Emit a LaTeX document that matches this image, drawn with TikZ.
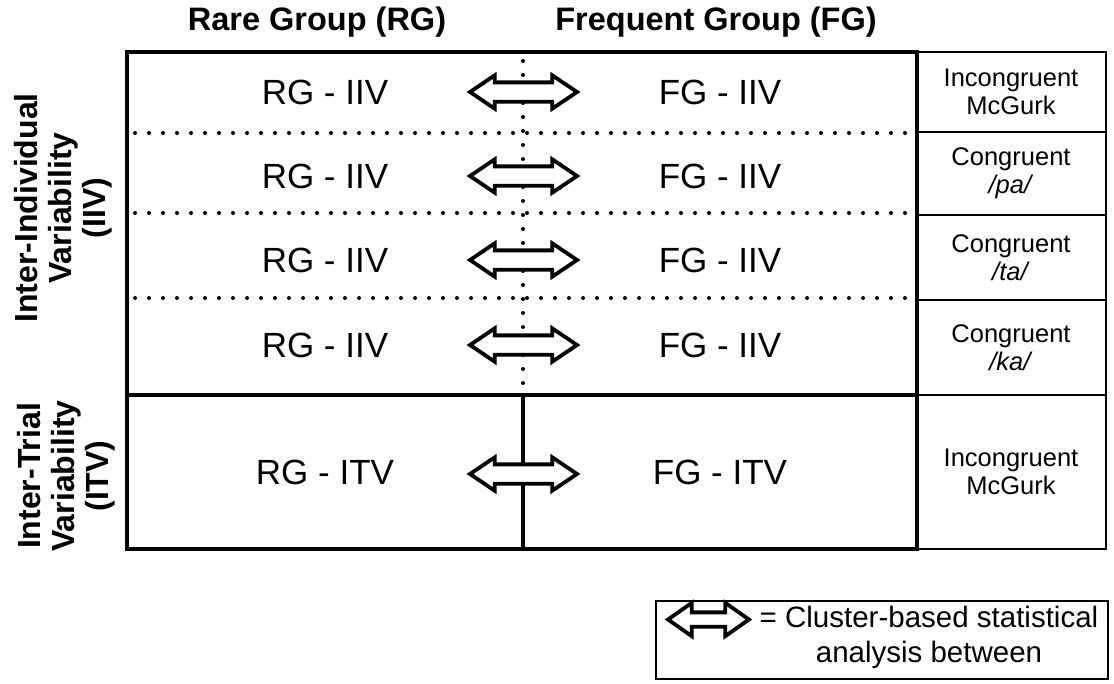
\documentclass[tikz,border=0pt]{standalone}
\usepackage{fontspec}
\setmainfont{Liberation Sans}
\usetikzlibrary{shapes.arrows}

\begin{document}
\begin{tikzpicture}[x=1pt, y=-1pt,
  heading/.style={font=\bfseries\fontsize{32.5}{38}\selectfont, inner sep=0pt},
  celltext/.style={font=\fontsize{35}{40}\selectfont, inner sep=0pt},
  condtext/.style={font=\fontsize{25.5}{28}\selectfont, align=center, inner sep=0pt},
  sidelabel/.style={font=\bfseries\fontsize{32}{34}\selectfont, align=center, rotate=90, inner sep=0pt},
  legtext/.style={font=\fontsize{29.5}{35}\selectfont, align=center, inner sep=0pt},
  frame/.style={line width=4pt},
  thinframe/.style={line width=2pt},
  dotline/.style={line width=4pt, line cap=round, dash pattern=on 0pt off 14pt},
  dblarr/.style={double arrow, draw, fill=white, line width=3.8pt, line join=miter,
    inner xsep=0pt, inner ysep=7.75pt, minimum height=107pt,
    double arrow head extend=7pt, double arrow tip angle=68},
  legarr/.style={dblarr, inner ysep=5.25pt, minimum height=81pt,
    double arrow head extend=9.5pt, double arrow tip angle=70}
]
\useasboundingbox (0,0) rectangle (1114,683);

% column headings
\node[heading] (hrg) at (317,22) {Rare Group (RG)};
\node[heading] (hfg) at (716,22) {Frequent Group (FG)};

% condition column on the right
\draw[thinframe] (917,52) rectangle (1106,549);
\foreach \y in {132,215,300,395} \draw[thinframe] (917,\y) -- (1106,\y);

% dotted separators of the IIV block
\foreach \y in {133,213,298} \draw[dotline] (135,\y) -- (917,\y);
\draw[dotline] (523,61) -- (523,395);

% solid frame, IIV/ITV split and ITV divider
\draw[frame] (127,52) rectangle (917,549);
\draw[frame] (127,395) -- (917,395);
\draw[line width=3.5pt] (523,395) -- (523,549);

% cell contents
\foreach \y/\n in {92/1,176/2,260/3,345/4} {
  \node[celltext] (rg\n) at (325,\y) {RG - IIV};
  \node[celltext] (fg\n) at (720,\y) {FG - IIV};
  \node[dblarr] (arr\n) at (523.5,\y) {};
}
\node[celltext] (rgt) at (325,472) {RG - ITV};
\node[celltext] (fgt) at (720,472) {FG - ITV};
\node[dblarr] (arrt) at (523.5,474) {};

% condition labels
\node[condtext] (c1) at (1011,92) {Incongruent\\McGurk};
\node[condtext] (c2) at (1011,173.5) {Congruent\\\textit{/pa/}};
\node[condtext] (c3) at (1011,257.5) {Congruent\\\textit{/ta/}};
\node[condtext] (c4) at (1011,347.5) {Congruent\\\textit{/ka/}};
\node[condtext] (c5) at (1011,472) {Incongruent\\McGurk};

% row labels
\node[sidelabel] (liiv) at (63,208) {Inter-Individual\\Variability\\(IIV)};
\node[sidelabel] (litv) at (66,476) {Inter-Trial\\Variability\\(ITV)};

% legend
\draw[line width=1.8pt] (656,601) rectangle (1108,679);
\node[legarr] (larr) at (708.5,619.5) {};
\node[legtext] (ltxt) at (929,637.5) {= Cluster-based statistical\\analysis between};
\end{tikzpicture}
\end{document}
